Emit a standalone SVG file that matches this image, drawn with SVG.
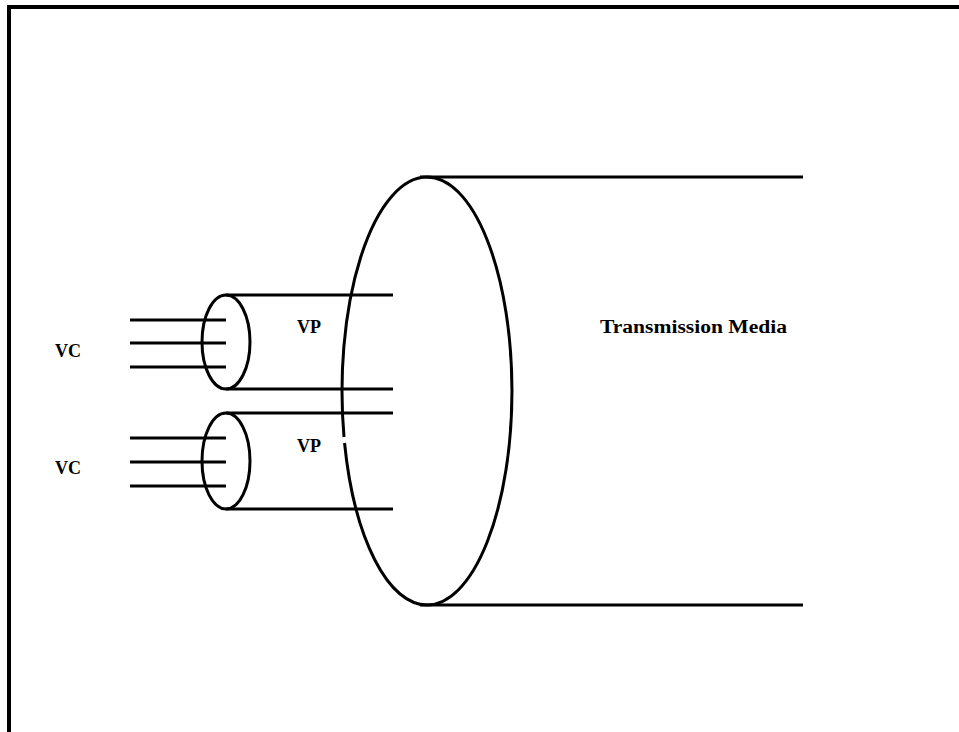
<svg xmlns="http://www.w3.org/2000/svg" width="959" height="732" viewBox="0 0 959 732">
<style>
.ln{stroke:#000;stroke-width:3;fill:none;stroke-linecap:butt}
.bd{stroke:#000;stroke-width:4;fill:none}
.lb{font-family:"Liberation Serif","Times New Roman",serif;font-weight:bold;fill:#000}
</style>
<rect width="959" height="732" fill="#fff"/>
<g id="frame">
<path class="bd" d="M9 732 V7 H959"/>
</g>
<g id="media">
<path class="ln" d="M344.55 443 A85 214 0 0 0 427 605 A85 214 0 0 0 427 177 A85 214 0 0 0 344.0 437"/>
<line class="ln" x1="420" y1="177" x2="803" y2="177"/>
<line class="ln" x1="420" y1="605" x2="803" y2="605"/>
<text class="lb" x="600" y="333" font-size="18" textLength="187" lengthAdjust="spacingAndGlyphs">Transmission Media</text>
</g>
<g id="vp1">
<ellipse class="ln" cx="226" cy="342" rx="24" ry="47"/>
<line class="ln" x1="226" y1="295" x2="393" y2="295"/>
<line class="ln" x1="226" y1="389" x2="393" y2="389"/>
<text class="lb" x="297" y="333" font-size="18">VP</text>
</g>
<g id="vp2">
<ellipse class="ln" cx="226" cy="461" rx="24" ry="48"/>
<line class="ln" x1="226" y1="413" x2="393" y2="413"/>
<line class="ln" x1="226" y1="509" x2="393" y2="509"/>
<text class="lb" x="297" y="452" font-size="18">VP</text>
</g>
<g id="vc1">
<line class="ln" x1="130" y1="320" x2="226" y2="320"/>
<line class="ln" x1="130" y1="343" x2="226" y2="343"/>
<line class="ln" x1="130" y1="367" x2="226" y2="367"/>
<text class="lb" x="55" y="357" font-size="18">VC</text>
</g>
<g id="vc2">
<line class="ln" x1="130" y1="438" x2="226" y2="438"/>
<line class="ln" x1="130" y1="462" x2="226" y2="462"/>
<line class="ln" x1="130" y1="486" x2="226" y2="486"/>
<text class="lb" x="55" y="474" font-size="18">VC</text>
</g>
</svg>
